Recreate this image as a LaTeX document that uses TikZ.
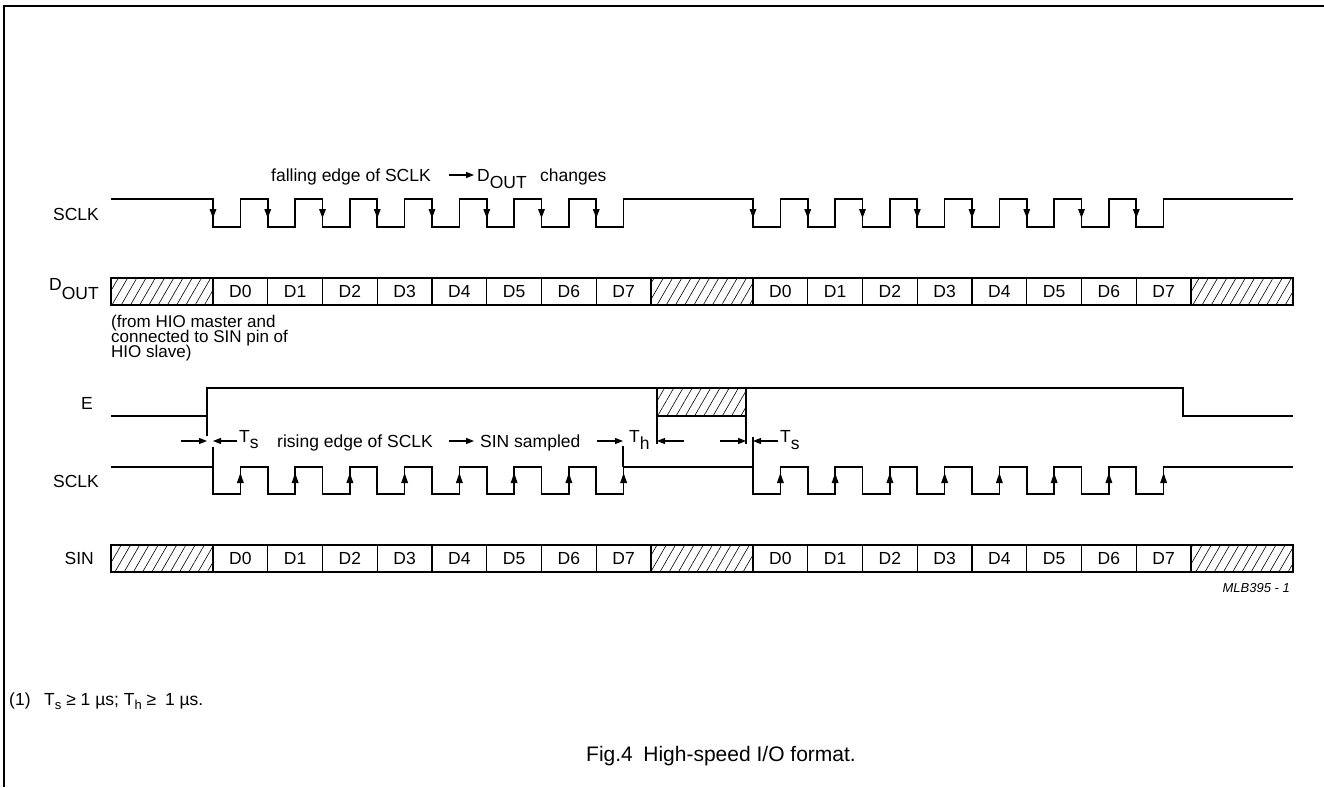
\documentclass[tikz,border=0pt]{standalone}
\usepackage{fontspec}
\setmainfont{Liberation Sans}
\usetikzlibrary{arrows.meta,patterns.meta}
\begin{document}
\begin{tikzpicture}[x=1pt,y=-1pt,
  sig/.style={line width=1.6pt,line join=miter},
  cell/.style={line width=1.3pt},
  hatch/.style={pattern={Lines[angle=60,distance=8pt,line width=0.6pt]}},
  dim/.style={line width=1.1pt},
  arr/.style={line width=1.1pt,-{Triangle[length=8pt,width=6pt]}},
  lbl/.style={font=\fontsize{17.5pt}{20pt}\selectfont,inner sep=0pt},
  note/.style={font=\fontsize{17pt}{19pt}\selectfont,inner sep=0pt},
  small/.style={font=\fontsize{13pt}{15pt}\selectfont\itshape,inner sep=0pt},
  foot/.style={font=\fontsize{17.5pt}{20pt}\selectfont,inner sep=0pt},
  capt/.style={font=\fontsize{21pt}{24pt}\selectfont,inner sep=0pt}]
\useasboundingbox (0,0) rectangle (1324,787);
% frame
\draw[line width=2pt] (4,787) -- (4,6) -- (1324,6);

% ---------- top SCLK ----------
\node[lbl,anchor=east] (lsclk1) at (99,214) {SCLK};
\draw[sig] (111,199)
  \foreach \k in {0,...,7}{ -- ({213+\k*54.75},199) -- ({213+\k*54.75},227) -- ({240.375+\k*54.75},227) -- ({240.375+\k*54.75},199)}
  \foreach \k in {0,...,7}{ -- ({753+\k*54.75},199) -- ({753+\k*54.75},227) -- ({780.375+\k*54.75},227) -- ({780.375+\k*54.75},199)}
  -- (1293,199);
\foreach \s in {213,753}{\foreach \k in {0,...,7}{
  \fill ({\s+\k*54.75-3.5},209) -- ({\s+\k*54.75+3.5},209) -- ({\s+\k*54.75},218) -- cycle;}}
\node[lbl,anchor=base west] (fall) at (271,181) {falling edge of SCLK};
\coordinate (fa1) at (449,175);
\coordinate (fa2) at (474,175);
\draw[arr] (fa1) -- (fa2);
\node[lbl,anchor=base west] (fdout) at (477,181) {D\raisebox{-7.5pt}{OUT}};
\node[lbl,anchor=base west] (fchg) at (540,181) {changes};

% ---------- D_OUT ----------
\node[lbl,anchor=base east] (ldout) at (99,290) {D\raisebox{-9pt}{OUT}};
\foreach \a/\b in {111/213,651/753,1191/1293}{\fill[hatch] (\a,278) rectangle (\b,305);}
\draw[cell] (111,278) rectangle (1293,305);
\foreach \s in {213,753}{\foreach \k in {0,...,8}{\draw[cell] ({\s+\k*54.75},278) -- ({\s+\k*54.75},305);}}
\foreach \s/\g in {213/a,753/b}{\foreach \k in {0,...,7}{
  \node[lbl] (dout\g\k) at ({\s+27.375+\k*54.75},291.5) {D\k};}}
\node[note,anchor=base west] (from1) at (111,327) {(from HIO master and};
\node[note,anchor=base west] (from2) at (111,342) {connected to SIN pin of};
\node[note,anchor=base west] (from3) at (111,357) {HIO slave)};

% ---------- E ----------
\node[lbl] (le) at (87,403) {E};
\draw[sig] (111,416) -- (207,416) -- (207,388) -- (1183,388) -- (1183,416) -- (1293,416);
\fill[hatch] (657,388) rectangle (746,416);
\draw[cell] (657,388) rectangle (746,416);

% ---------- timing annotations ----------
\coordinate (e1) at (207,416);   \coordinate (e1b) at (207,436);
\coordinate (c1) at (213,447);   \coordinate (c1b) at (213,467);
\draw[dim] (e1) -- (e1b);
\draw[dim] (c1) -- (c1b);
\coordinate (a1s) at (181,441);  \coordinate (a1e) at (207,441);
\draw[arr] (a1s) -- (a1e);
\coordinate (a2s) at (237,441);  \coordinate (a2e) at (213,441);
\draw[arr] (a2s) -- (a2e);
\node[lbl,anchor=base west] (ts1) at (239,442) {T\raisebox{-6.5pt}{s}};
\node[lbl,anchor=base west] (rise) at (277,447.5) {rising edge of SCLK};
\coordinate (ra1) at (449,441);  \coordinate (ra2) at (474,441);
\draw[arr] (ra1) -- (ra2);
\node[lbl,anchor=base west] (samp) at (480,447.5) {SIN sampled};
\coordinate (h1) at (623,446);   \coordinate (h1b) at (623,467);
\draw[dim] (h1) -- (h1b);
\coordinate (a3s) at (597,441);  \coordinate (a3e) at (623,441);
\draw[arr] (a3s) -- (a3e);
\node[lbl,anchor=base west] (th) at (629,442.5) {T\raisebox{-6.5pt}{h}};
\coordinate (x1) at (657,416);   \coordinate (x1b) at (657,444);
\coordinate (x2) at (746,416);   \coordinate (x2b) at (746,444);
\draw[dim] (x1) -- (x1b);
\draw[dim] (x2) -- (x2b);
\coordinate (a4s) at (684,441);  \coordinate (a4e) at (657,441);
\draw[arr] (a4s) -- (a4e);
\coordinate (a5s) at (720,441);  \coordinate (a5e) at (746,441);
\draw[arr] (a5s) -- (a5e);
\coordinate (c2) at (753,437);   \coordinate (c2b) at (753,467);
\draw[dim] (c2) -- (c2b);
\coordinate (a6s) at (778,441);  \coordinate (a6e) at (753,441);
\draw[arr] (a6s) -- (a6e);
\node[lbl,anchor=base west] (ts2) at (780,442.5) {T\raisebox{-6.5pt}{s}};

% ---------- lower SCLK ----------
\node[lbl,anchor=east] (lsclk2) at (99,481) {SCLK};
\draw[sig] (111,467)
  \foreach \k in {0,...,7}{ -- ({213+\k*54.75},467) -- ({213+\k*54.75},494) -- ({240.375+\k*54.75},494) -- ({240.375+\k*54.75},467)}
  \foreach \k in {0,...,7}{ -- ({753+\k*54.75},467) -- ({753+\k*54.75},494) -- ({780.375+\k*54.75},494) -- ({780.375+\k*54.75},467)}
  -- (1293,467);
\foreach \s in {240.375,780.375}{\foreach \k in {0,...,7}{
  \fill ({\s+\k*54.75-3.5},483) -- ({\s+\k*54.75+3.5},483) -- ({\s+\k*54.75},473) -- cycle;}}

% ---------- SIN ----------
\node[lbl,anchor=east] (lsin) at (94,558) {SIN};
\foreach \a/\b in {111/213,651/753,1191/1293}{\fill[hatch] (\a,545) rectangle (\b,572);}
\draw[cell] (111,545) rectangle (1293,572);
\foreach \s in {213,753}{\foreach \k in {0,...,8}{\draw[cell] ({\s+\k*54.75},545) -- ({\s+\k*54.75},572);}}
\foreach \s/\g in {213/a,753/b}{\foreach \k in {0,...,7}{
  \node[lbl] (sin\g\k) at ({\s+27.375+\k*54.75},558.5) {D\k};}}
\node[small,anchor=base east] (mlb) at (1290,592) {MLB395 - 1};

% ---------- footnote and caption ----------
\node[foot,anchor=base west] (fnote) at (9,705) {(1)\enspace\ T\raisebox{-4pt}{\fontsize{13pt}{15pt}\selectfont s} ≥ 1 µs; T\raisebox{-4pt}{\fontsize{13pt}{15pt}\selectfont h} ≥\enspace 1 µs.};
\node[capt] (cap) at (721,756) {Fig.4\enspace High-speed I/O format.};
\end{tikzpicture}
\end{document}
